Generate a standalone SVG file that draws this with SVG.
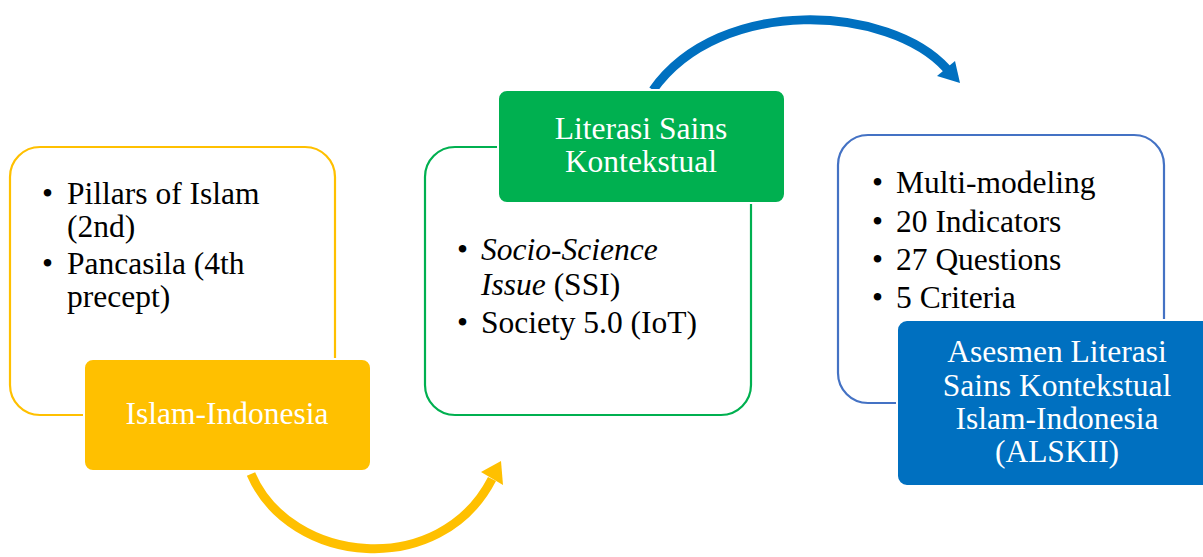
<svg xmlns="http://www.w3.org/2000/svg" width="1203" height="557" viewBox="0 0 1203 557">
  <style>
    text { font-family: "Liberation Serif", "Times New Roman", serif; font-size: 31.5px; }
    .dark { fill: #000000; }
    .light { fill: #ffffff; text-anchor: middle; }
    .frame { fill: #ffffff; stroke-width: 2.2; }
    .label { stroke: #ffffff; stroke-width: 2; }
    .arc { fill: none; stroke-width: 9; }
  </style>
  <rect width="1203" height="557" fill="#ffffff"/>

  <!-- connectors -->
  <g id="connectors">
    <path class="arc" stroke="#FFC000" d="M251,474 C290,565 440,580 492,479"/>
    <polygon fill="#FFC000" points="481,472 501,461 503,485"/>
    <path class="arc" stroke="#0070C0" d="M653,90 C720,-5 890,5 947,69"/>
    <polygon fill="#0070C0" points="937,76 955,61 960,83"/>
  </g>

  <!-- Islam-Indonesia -->
  <g id="node-islam-indonesia">
    <rect class="frame" stroke="#FFC000" x="10" y="147" width="325" height="268" rx="30"/>
    <text class="dark" x="42" y="204">•</text>
    <text class="dark" x="67" y="204">Pillars of Islam</text>
    <text class="dark" x="67" y="237">(2nd)</text>
    <text class="dark" x="42" y="274">•</text>
    <text class="dark" x="67" y="274">Pancasila (4th</text>
    <text class="dark" x="67" y="307">precept)</text>
    <rect class="label" fill="#FFC000" x="84" y="359" width="287" height="112" rx="9"/>
    <text class="light" x="227" y="424">Islam-Indonesia</text>
  </g>

  <!-- Literasi Sains Kontekstual -->
  <g id="node-literasi-sains">
    <rect class="frame" stroke="#00B050" x="425" y="147" width="326" height="268" rx="30"/>
    <rect class="label" fill="#00B050" x="498" y="90" width="287" height="113" rx="9"/>
    <text class="light" x="641" y="139">Literasi Sains</text>
    <text class="light" x="641" y="172">Kontekstual</text>
    <text class="dark" x="457" y="260">•</text>
    <text class="dark" x="481" y="260" font-style="italic">Socio-Science</text>
    <text class="dark" x="481" y="295"><tspan font-style="italic">Issue</tspan> (SSI)</text>
    <text class="dark" x="457" y="333">•</text>
    <text class="dark" x="481" y="333">Society 5.0 (IoT)</text>
  </g>

  <!-- ALSKII -->
  <g id="node-alskii">
    <rect class="frame" stroke="#4472C4" x="838" y="135" width="326" height="268" rx="30"/>
    <text class="dark" x="872" y="193">•</text>
    <text class="dark" x="896" y="193">Multi-modeling</text>
    <text class="dark" x="872" y="232">•</text>
    <text class="dark" x="896" y="232">20 Indicators</text>
    <text class="dark" x="872" y="270">•</text>
    <text class="dark" x="896" y="270">27 Questions</text>
    <text class="dark" x="872" y="308">•</text>
    <text class="dark" x="896" y="308">5 Criteria</text>
    <rect class="label" fill="#0070C0" x="897" y="320" width="320" height="166" rx="10"/>
    <text class="light" x="1057" y="362">Asesmen Literasi</text>
    <text class="light" x="1057" y="396">Sains Kontekstual</text>
    <text class="light" x="1057" y="429">Islam-Indonesia</text>
    <text class="light" x="1057" y="462">(ALSKII)</text>
  </g>
</svg>
